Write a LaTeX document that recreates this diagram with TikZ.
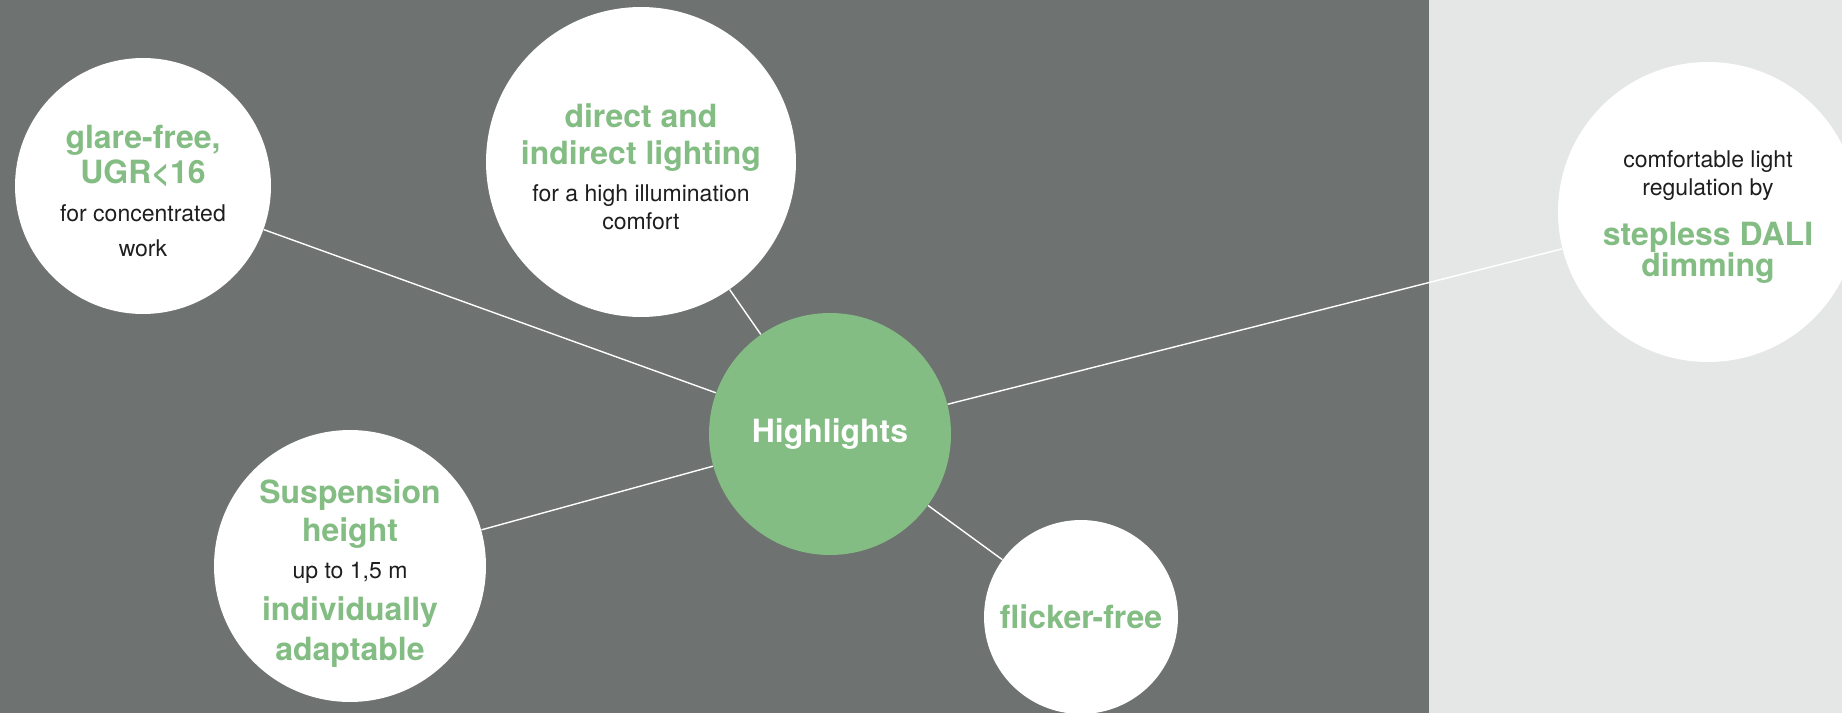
\documentclass[tikz,border=0pt]{standalone}
\usepackage{fontspec}
\setmainfont{TeX Gyre Heros}
\usepackage{xcolor}
\definecolor{slategray}{RGB}{110,114,112}
\definecolor{palegray}{RGB}{229,231,230}
\definecolor{leafgreen}{RGB}{131,189,131}
\definecolor{inkblack}{RGB}{30,30,30}
\usepackage{tikz}
\newcommand{\keytext}[1]{{\fontsize{18.2pt}{21pt}\selectfont\bfseries\color{leafgreen}#1}}
\tikzset{
  bubble/.style={circle,fill=white,inner sep=0pt},
  blurb/.style={align=center,inner sep=0pt,yshift=-0.1cm,text=inkblack,font=\fontsize{13.1pt}{21pt}\selectfont},
  hub/.style={circle,fill=leafgreen,inner sep=0pt,text=white,font=\fontsize{18.2pt}{21pt}\selectfont\bfseries},
  spoke/.style={draw=white,line width=0.8pt}
}

\begin{document}
\begin{tikzpicture}[x=0.02cm,y=-0.02cm]
  % Backdrop
  \useasboundingbox (0,0) rectangle (1842,713);
  \fill[slategray] (0,0) rectangle (1842,713);
  \fill[palegray] (1429,0) rectangle (1842,713);
  \clip (0,0) rectangle (1842,713);

  % Bubbles
  \node[hub,minimum size=4.84cm] (hl) at (830,434) {Highlights};
  \node[bubble,minimum size=5.12cm,
    label={[blurb,font=\fontsize{13.1pt}{20pt}\selectfont]center:{
      \keytext{glare-free,}\\
      \keytext{UGR<16}\\[1.7pt]
      for concentrated\\
      work}}] (glare) at (143,186) {};
  \node[bubble,minimum size=6.2cm,
    label={[blurb]center:{
      \keytext{direct and}\\
      \keytext{indirect lighting}\\
      for a high illumination\\[-5pt]
      comfort}}] (direct) at (641,162) {};
  \node[bubble,minimum size=6cm,
    label={[blurb,font=\fontsize{13.1pt}{17pt}\selectfont]center:{
      comfortable light\\[-1pt]
      regulation by\\[11.7pt]
      \keytext{stepless DALI}\\[-0.8pt]
      \keytext{dimming}}}] (dali) at (1708,212) {};
  \node[bubble,minimum size=5.44cm,
    label={[blurb,yshift=-0.05cm,font=\fontsize{13.1pt}{21.5pt}\selectfont]center:{
      \keytext{Suspension}\\
      \keytext{height}\\
      up to 1,5 m\\[2pt]
      \keytext{individually}\\[1.5pt]
      \keytext{adaptable}}}] (susp) at (350,566) {};
  \node[bubble,minimum size=3.88cm,
    label={[blurb,yshift=0.1cm]center:\keytext{flicker-free}}] (flick) at (1081,617) {};

  % Spokes
  \draw[spoke] (hl) -- (glare);
  \draw[spoke] (hl) -- (direct);
  \draw[spoke] (hl) -- (dali);
  \draw[spoke] (hl) -- (susp);
  \draw[spoke] (hl) -- (flick);
\end{tikzpicture}
\end{document}
